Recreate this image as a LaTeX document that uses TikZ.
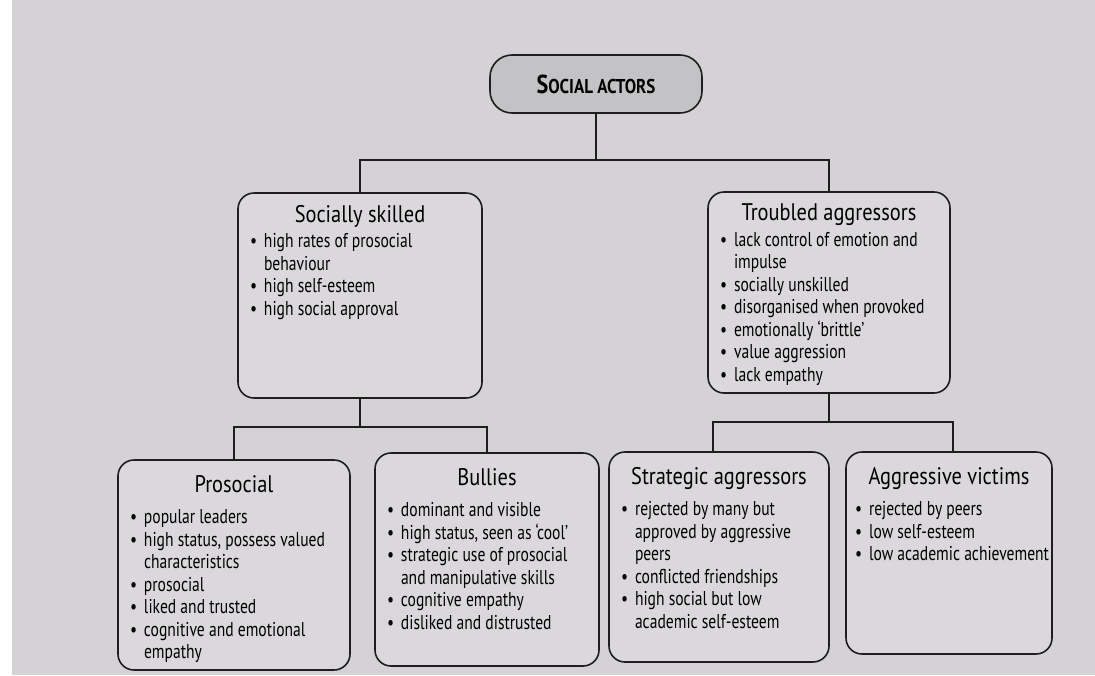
\documentclass[tikz,border=0pt]{standalone}
\usepackage{fontspec}
\setmainfont{PT Sans}[FakeStretch=0.78]
\newfontfamily\headfont{PT Sans}[FakeStretch=0.85]
\usetikzlibrary{positioning}

\definecolor{pagegrey}{HTML}{D5D2D6}
\definecolor{cardfill}{HTML}{DAD8DB}
\definecolor{rootfill}{HTML}{C3C2C4}
\definecolor{inkline}{HTML}{1E1E1E}

% one bullet line with hanging indent
\newcommand{\itm}[1]{\par\hangindent=14pt\hangafter=1\noindent\makebox[14pt][l]{\textbullet}#1}
% card body: [gap] width, height, title, bullets
\newcommand{\card}[5][3]{\parbox[c][#3pt][t]{#2pt}{\raggedright\hyphenpenalty=10000
	\fontsize{20}{22.5}\selectfont
	{\centering\headfont\fontsize{24}{25}\selectfont #4\par}\vspace{#1pt}#5}}

\begin{document}
\begin{tikzpicture}[x=1pt, y=-1pt]
	\tikzset{
		card/.style={draw=inkline, line width=1.6pt, rounded corners=16pt, fill=cardfill,
			inner xsep=12pt, inner ysep=12pt},
		lowcard/.style={card, inner ysep=15pt},
		rootcard/.style={draw=inkline, line width=1.6pt, rounded corners=22pt, fill=rootfill,
			minimum width=212pt, minimum height=58pt},
		link/.style={draw=inkline, line width=1.5pt}
	}

	%page
	\fill[white] (0,0) rectangle (1095,675);
	\fill[pagegrey] (12,0) rectangle (1095,675);
	\useasboundingbox (0,0) rectangle (1095,675);

	%root
	\node[rootcard] (actors) at (596,84)
		{\headfont\bfseries\fontsize{26}{26}\selectfont S\fontsize{20}{26}\selectfont OCIAL ACTORS\hspace{8pt}};

	%middle level
	\node[card] (skilled) at (360,295.5) {\card{220}{181}{Socially skilled}{%
		\itm{high rates of prosocial behaviour}
		\itm{high self-esteem}
		\itm{high social approval}}};
	\node[card] (troubled) at (829,292.5) {\card{218}{177}{Troubled aggressors}{%
		\itm{lack control of emotion and impulse}
		\itm{socially unskilled}
		\itm{disorganised when provoked}
		\itm{emotionally `brittle'}
		\itm{value aggression}
		\itm{lack empathy}}};

	%bottom level
	\node[lowcard] (prosocial) at (234,565) {\card[9]{208}{180}{Prosocial}{%
		\itm{popular leaders}
		\itm{high status, possess valued characteristics}
		\itm{prosocial}
		\itm{liked and trusted}
		\itm{cognitive and emotional empathy}}};
	\node[lowcard] (bullies) at (487,559.5) {\card[9]{200}{183}{Bullies}{%
		\itm{dominant and visible}
		\itm{high status, seen as `cool'}
		\itm{strategic use of prosocial and manipulative skills}
		\itm{cognitive empathy}
		\itm{disliked and distrusted}}};
	\node[lowcard] (strategic) at (719,557) {\card[9]{196}{180}{Strategic aggressors}{%
		\itm{rejected by many but approved by aggressive peers}
		\itm{conflicted friendships}
		\itm{high social but low academic self-esteem}}};
	\node[lowcard, inner xsep=9pt] (victims) at (949,553) {\card[9]{188}{172}{Aggressive victims}{%
		\itm{rejected by peers}
		\itm{low self-esteem}
		\itm{\mbox{low academic achievement}}}};

	%connectors
	\coordinate (top bar) at (596,160);
	\coordinate (left bar) at (360,427);
	\coordinate (right bar) at (829,422);
	\draw[link] (actors) -- (top bar);
	\draw[link] (top bar) -| (skilled);
	\draw[link] (top bar) -| (troubled);
	\draw[link] (skilled) -- (left bar);
	\draw[link] (left bar) -| (prosocial);
	\draw[link] (left bar) -| (bullies);
	\draw[link] (troubled) -- (right bar);
	\draw[link] (right bar) -| ([xshift=-6pt]strategic.north);
	\draw[link] (right bar) -| ([xshift=4pt]victims.north);
\end{tikzpicture}
\end{document}
